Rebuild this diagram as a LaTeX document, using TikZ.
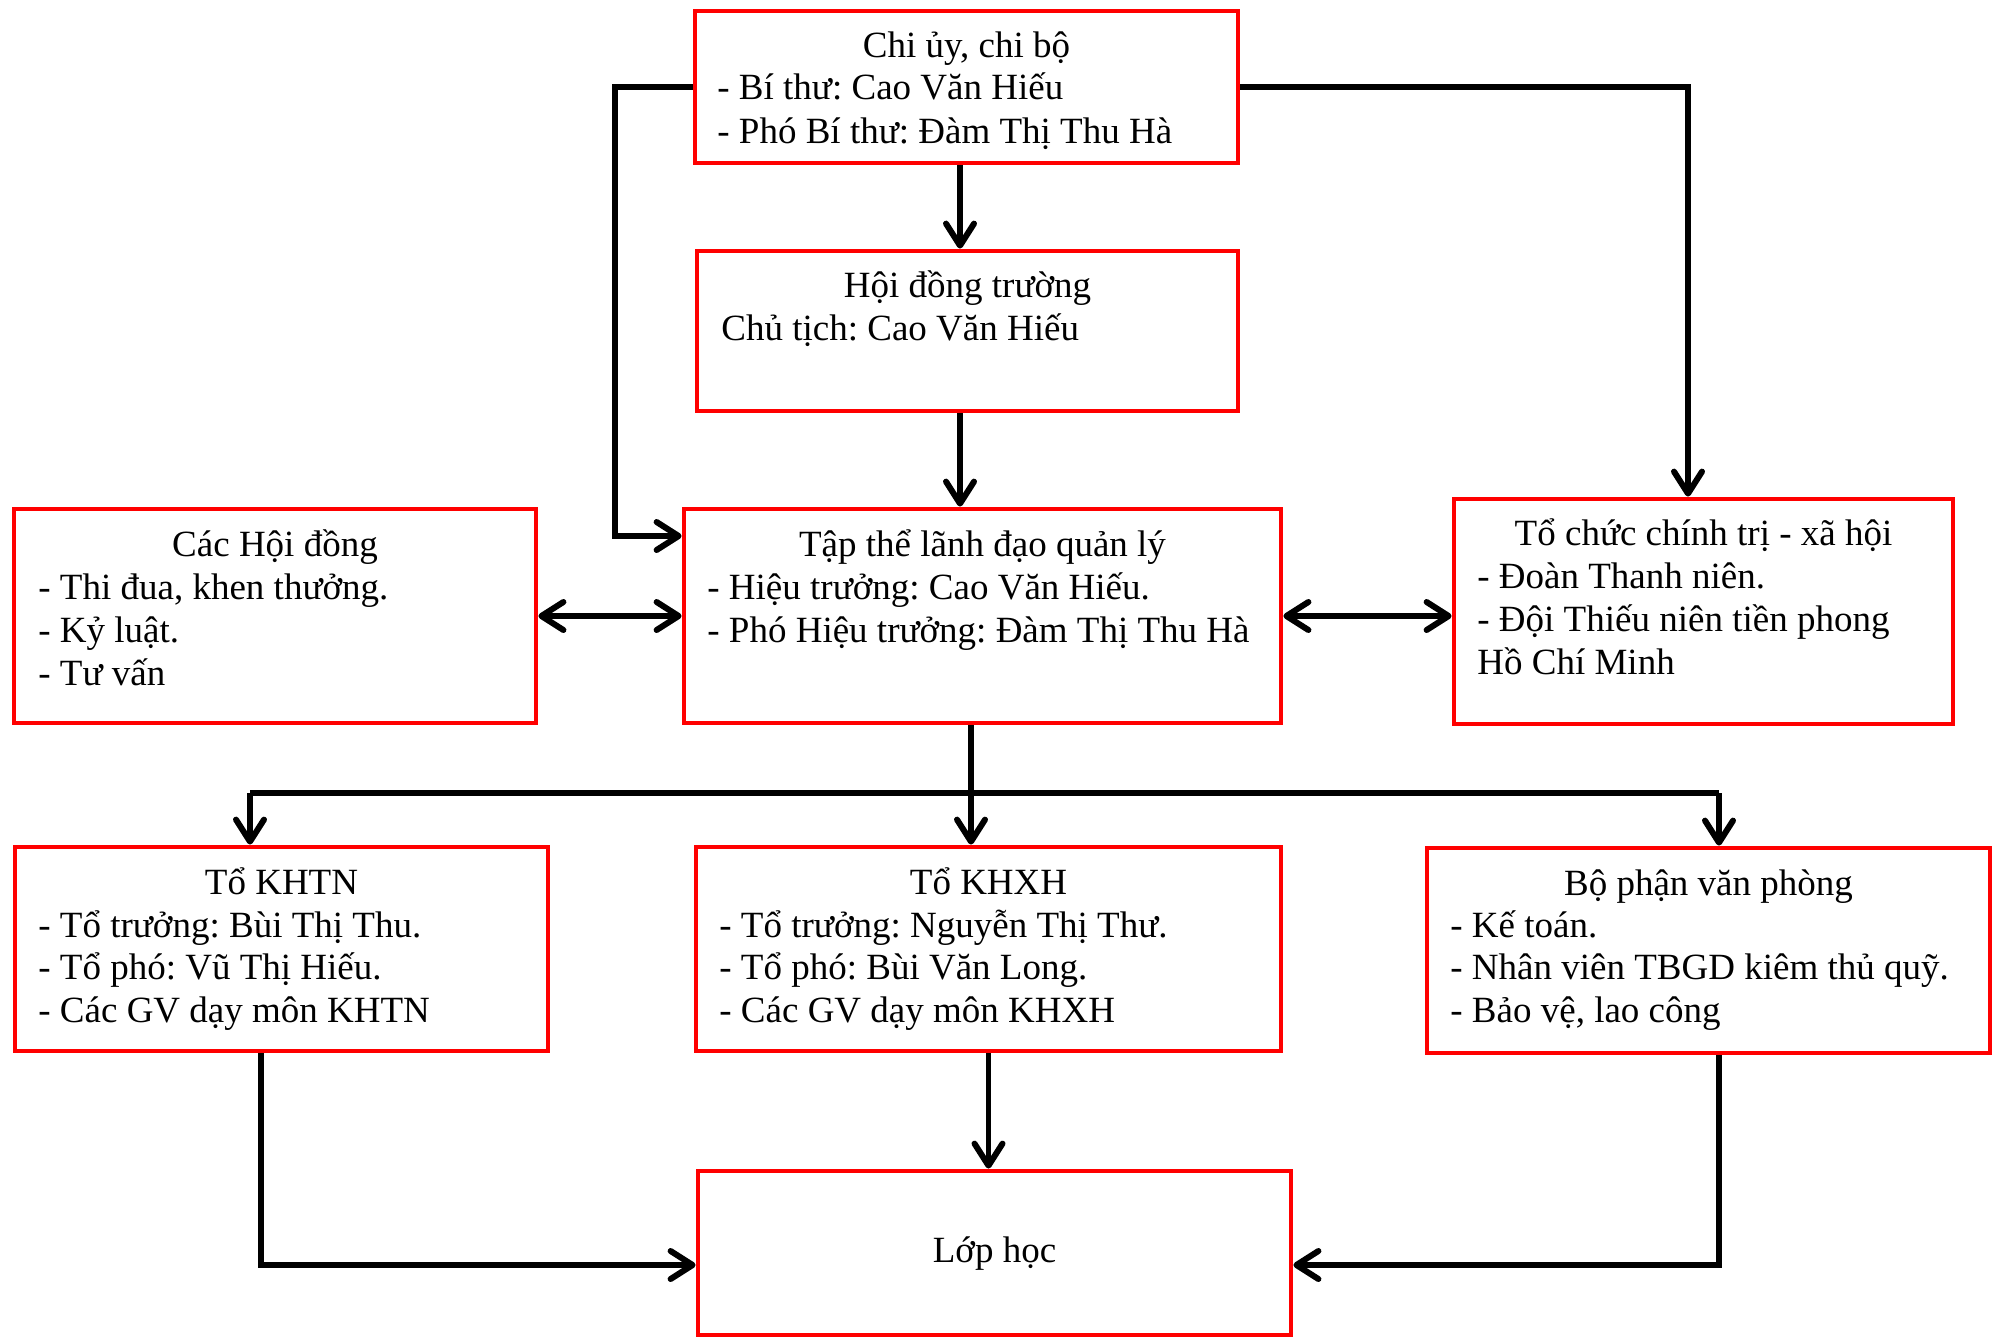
\documentclass[tikz,border=0pt]{standalone}
\usepackage{fontspec}
\setmainfont{Liberation Serif}
\usetikzlibrary{arrows.meta}
\frenchspacing
\begin{document}
\begin{tikzpicture}[x=0.5pt,y=-0.5pt,
  box/.style={draw=red, line width=2.4pt, inner sep=0pt, fill=none},
  conn/.style={line width=2.7pt, draw=black},
  arr/.style={conn, -{Straight Barb[length=11pt,width=14pt,line width=3pt,round]}},
  dbl/.style={conn, {Straight Barb[length=11pt,width=14pt,line width=3pt,round]}-{Straight Barb[length=11pt,width=14pt,line width=3pt,round]}},
  lbl/.style={inner sep=0pt, font=\fontsize{18.5}{22}\selectfont}]
\useasboundingbox (0,0) rectangle (2000,1338);
% boxes
\node[box, minimum width=271.5pt, minimum height=76pt] (chi) at (966.5,87) {};
\node[box, minimum width=270.5pt, minimum height=80pt] (hdt) at (967.5,331) {};
\node[box, minimum width=261pt, minimum height=107pt] (chd) at (275,616) {};
\node[box, minimum width=298.5pt, minimum height=107pt] (ttl) at (982.5,616) {};
\node[box, minimum width=249.5pt, minimum height=112.5pt] (tcx) at (1703.5,611.5) {};
\node[box, minimum width=266.5pt, minimum height=102pt] (khtn) at (281.5,949) {};
\node[box, minimum width=292.5pt, minimum height=102pt] (khxh) at (988.5,949) {};
\node[box, minimum width=281.5pt, minimum height=102.5pt] (bpv) at (1708.5,950.5) {};
\node[box, minimum width=296.5pt, minimum height=82pt] (lop) at (994.5,1253) {};
% texts
\node[lbl, anchor=base] (chiT) at (966.5,58) {Chi ủy, chi bộ};
\node[lbl, anchor=base west] (chi1) at (717,100) {- Bí thư: Cao Văn Hiếu};
\node[lbl, anchor=base west] (chi2) at (717,143) {- Phó Bí thư: Đàm Thị Thu Hà};
\node[lbl, anchor=base] (hdtT) at (967.5,297) {Hội đồng trường};
\node[lbl, anchor=base west] (hdt1) at (721,340) {Chủ tịch: Cao Văn Hiếu};
\node[lbl, anchor=base] (chdT) at (275,556) {Các Hội đồng};
\node[lbl, anchor=base west] (chd1) at (38,599) {- Thi đua, khen thưởng.};
\node[lbl, anchor=base west] (chd2) at (38,642) {- Kỷ luật.};
\node[lbl, anchor=base west] (chd3) at (38,685) {- Tư vấn};
\node[lbl, anchor=base] (ttlT) at (982.5,556) {Tập thể lãnh đạo quản lý};
\node[lbl, anchor=base west] (ttl1) at (707,599) {- Hiệu trưởng: Cao Văn Hiếu.};
\node[lbl, anchor=base west] (ttl2) at (707,642) {- Phó Hiệu trưởng: Đàm Thị Thu Hà};
\node[lbl, anchor=base] (tcxT) at (1703.5,545) {Tổ chức chính trị - xã hội};
\node[lbl, anchor=base west] (tcx1) at (1477,588) {- Đoàn Thanh niên.};
\node[lbl, anchor=base west] (tcx2) at (1477,631) {- Đội Thiếu niên tiền phong};
\node[lbl, anchor=base west] (tcx3) at (1477,674) {Hồ Chí Minh};
\node[lbl, anchor=base] (khtnT) at (281.5,894) {Tổ KHTN};
\node[lbl, anchor=base west] (khtn1) at (38,937) {- Tổ trưởng: Bùi Thị Thu.};
\node[lbl, anchor=base west] (khtn2) at (38,979) {- Tổ phó: Vũ Thị Hiếu.};
\node[lbl, anchor=base west] (khtn3) at (38,1022) {- Các GV dạy môn KHTN};
\node[lbl, anchor=base] (khxhT) at (988.5,894) {Tổ KHXH};
\node[lbl, anchor=base west] (khxh1) at (719,937) {- Tổ trưởng: Nguyễn Thị Thư.};
\node[lbl, anchor=base west] (khxh2) at (719,979) {- Tổ phó: Bùi Văn Long.};
\node[lbl, anchor=base west] (khxh3) at (719,1022) {- Các GV dạy môn KHXH};
\node[lbl, anchor=base] (bpvT) at (1708.5,895) {Bộ phận văn phòng};
\node[lbl, anchor=base west] (bpv1) at (1450,937) {- Kế toán.};
\node[lbl, anchor=base west] (bpv2) at (1450,979) {- Nhân viên TBGD kiêm thủ quỹ.};
\node[lbl, anchor=base west] (bpv3) at (1450,1022) {- Bảo vệ, lao công};
\node[lbl, anchor=base] (lopT) at (994.5,1262) {Lớp học};
% connectors
\draw[arr] (chi.west) -| (615,300) |- (ttl.west |- 0,536);
\draw[arr] (chi.south -| 960,0) -- (hdt.north -| 960,0);
\draw[arr] (hdt.south -| 960,0) -- (ttl.north -| 960,0);
\draw[arr] (chi.east) -| (tcx.north -| 1688,0);
\draw[dbl] (chd.east) -- (ttl.west);
\draw[dbl] (ttl.east) -- (tcx.west |- ttl.east);
\coordinate (busL) at (250,793);
\coordinate (busR) at (1719,793);
\draw[conn] (busL) -- (busR);
\draw[arr] (ttl.south -| 971,0) -- (khxh.north -| 971,0);
\draw[arr] (busL) -- (busL |- khtn.north);
\draw[arr] (busR) -- (busR |- bpv.north);
\draw[arr] (khtn.south -| 261,0) |- (lop.west |- 0,1265);
\draw[arr] (khxh.south) -- (khxh.south |- lop.north);
\draw[arr] (bpv.south -| 1719,0) |- (lop.east |- 0,1265);
\end{tikzpicture}
\end{document}
